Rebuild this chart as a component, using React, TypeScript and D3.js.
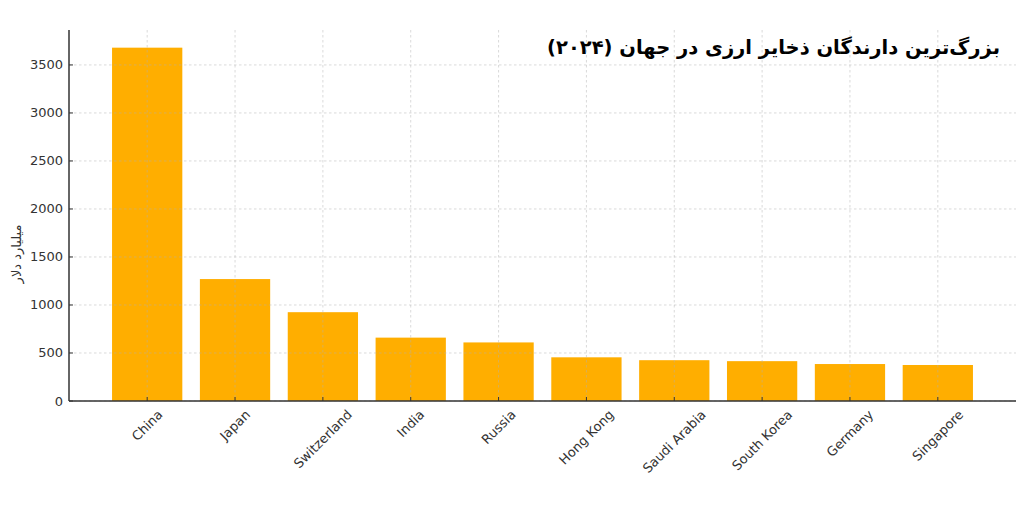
import React, { useEffect, useRef } from "react";
import * as d3 from "d3";

const countries = ["China", "Japan", "Switzerland", "India", "Russia", "Hong Kong", "Saudi Arabia", "South Korea", "Germany", "Singapore"];
const reserves = [3680, 1270, 925, 660, 610, 455, 425, 415, 385, 375];
const yTicks = [0, 500, 1000, 1500, 2000, 2500, 3000, 3500];
const titleText = "بزرگ‌ترین دارندگان ذخایر ارزی در جهان (۲۰۲۴)";
const yLabelText = "میلیارد دلار";

const W = 1024;
const H = 508;
const M = { left: 69, right: 1016, top: 30, bottom: 401 };
const FONT = "'DejaVu Sans', sans-serif";

export default function App() {
  const ref = useRef<SVGSVGElement | null>(null);

  useEffect(() => {
    const svg = d3.select(ref.current);
    svg.selectAll("*").remove();

    const n = countries.length;
    const x = d3.scaleLinear().domain([-0.89, n - 1 + 0.89]).range([M.left, M.right]);
    const yMax = d3.max(reserves)! * 1.05;
    const y = d3.scaleLinear().domain([0, yMax]).range([M.bottom, M.top]);
    const step = x(1) - x(0);
    const bw = step * 0.8;

    // bars
    svg.append("g")
      .selectAll("rect")
      .data(reserves)
      .join("rect")
      .attr("x", (_d, i) => x(i) - bw / 2)
      .attr("width", bw)
      .attr("y", (d) => y(d))
      .attr("height", (d) => y(0) - y(d))
      .attr("fill", "#FFAE00");

    // grid
    const grid = svg.append("g").attr("stroke", "#b0b0b0").attr("stroke-opacity", 0.6).attr("stroke-width", 0.8).attr("stroke-dasharray", "2.5,2.5");
    grid.selectAll("line.h")
      .data(yTicks)
      .join("line")
      .attr("class", "h")
      .attr("x1", M.left).attr("x2", M.right)
      .attr("y1", (d) => y(d)).attr("y2", (d) => y(d));
    grid.selectAll("line.v")
      .data(countries)
      .join("line")
      .attr("class", "v")
      .attr("x1", (_d, i) => x(i)).attr("x2", (_d, i) => x(i))
      .attr("y1", M.top).attr("y2", M.bottom);

    // spines
    svg.append("line").attr("x1", M.left).attr("x2", M.left).attr("y1", M.top).attr("y2", M.bottom)
      .attr("stroke", "#333").attr("stroke-width", 1.5);
    svg.append("line").attr("x1", M.left).attr("x2", M.right).attr("y1", M.bottom).attr("y2", M.bottom)
      .attr("stroke", "#333").attr("stroke-width", 1.5);

    // y ticks
    const yt = svg.append("g");
    yt.selectAll("line").data(yTicks).join("line")
      .attr("x1", M.left).attr("x2", M.left + 4)
      .attr("y1", (d) => y(d)).attr("y2", (d) => y(d))
      .attr("stroke", "#333").attr("stroke-width", 1);
    yt.selectAll("text").data(yTicks).join("text")
      .attr("x", M.left - 6).attr("y", (d) => y(d))
      .attr("text-anchor", "end").attr("dominant-baseline", "central")
      .attr("font-family", FONT).attr("font-size", 13).attr("fill", "#333")
      .text((d) => String(d));

    // x ticks
    const xt = svg.append("g");
    xt.selectAll("line").data(countries).join("line")
      .attr("x1", (_d, i) => x(i)).attr("x2", (_d, i) => x(i))
      .attr("y1", M.bottom).attr("y2", M.bottom - 4)
      .attr("stroke", "#333").attr("stroke-width", 1);
    const labels = xt.selectAll("text").data(countries).join("text")
      .attr("text-anchor", "middle").attr("dominant-baseline", "central")
      .attr("font-family", FONT).attr("font-size", 13).attr("fill", "#333")
      .text((d) => d);
    labels.each(function (_d, i) {
      const el = this as SVGTextElement;
      const w = el.getComputedTextLength();
      const h = 15;
      const cx = x(i);
      const cy = M.bottom + 6 + (w + h) * Math.SQRT1_2 / 2;
      d3.select(el).attr("x", cx).attr("y", cy).attr("transform", `rotate(-45 ${cx} ${cy})`);
    });

    // y label
    svg.append("text")
      .attr("transform", `translate(16, 254) rotate(-90)`)
      .attr("text-anchor", "middle").attr("dominant-baseline", "central")
      .attr("font-family", FONT).attr("font-size", 13).attr("fill", "#333")
      .text(yLabelText);

    // title
    svg.append("text")
      .attr("x", 1000).attr("y", 54)
      .attr("direction", "rtl")
      .attr("text-anchor", "start")
      .attr("font-family", FONT).attr("font-size", 19.5).attr("font-weight", "bold").attr("fill", "#000")
      .text(titleText);
  }, []);

  return (
    <svg ref={ref} width={W} height={H} style={{ position: "absolute", left: 0, top: 0, background: "#fff" }} />
  );
}
